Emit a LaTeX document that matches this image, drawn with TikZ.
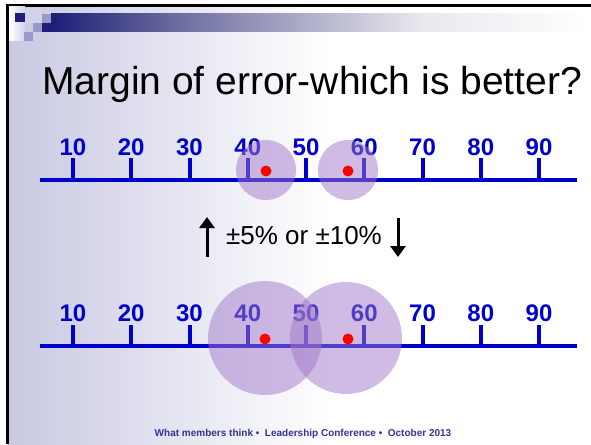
\documentclass[tikz,border=0pt]{standalone}
\usepackage{fontspec}
\setmainfont{Liberation Sans}
\usepackage{xcolor}
\usetikzlibrary{positioning, arrows.meta}

\definecolor{slideblue}{RGB}{0,0,204}
\definecolor{footblue}{RGB}{51,51,153}
\definecolor{lavender}{RGB}{200,200,226}
\definecolor{barnavy}{RGB}{30,30,120}
\definecolor{bargray}{RGB}{110,110,160}
\definecolor{barpale}{RGB}{232,232,238}
\definecolor{sqlight}{RGB}{210,210,234}
\definecolor{sqmid}{RGB}{153,153,204}
\definecolor{haze}{RGB}{160,120,200}

\begin{document}
\begin{tikzpicture}[
    x=1pt, y=-1pt,
    axis/.style={line width=4.5pt, slideblue},
    tick/.style={line width=4pt, slideblue},
    num/.style={font=\fontsize{24}{24}\selectfont\bfseries, text=slideblue, inner sep=0pt, anchor=base},
    spread/.style={circle, fill=haze, fill opacity=0.5, inner sep=0pt, minimum size=#1},
    spread/.default=60pt,
    dot/.style={circle, fill=red, inner sep=0pt, minimum size=11pt},
    updown/.style={-{Triangle[length=11pt, width=15pt]}, line width=3pt, black},
]
\useasboundingbox (0,0) rectangle (591,444);

% Slide background and frame
\fill[white] (0,0) rectangle (591,444);
\fill[left color=lavender, right color=white] (7,5) rectangle (330,444);
\draw[line width=2.5pt] (7.5,444) -- (7.5,5.5) -- (591,5.5);

% Title bar with squares
\fill[left color=barnavy, right color=bargray] (51,14) rectangle (180,32);
\fill[left color=bargray, right color=barpale] (180,14) rectangle (420,32);
\fill[left color=barpale, right color=white] (420,14) rectangle (591,32);
\fill[barnavy] (42,23) rectangle (51,32);
\fill[left color=white, right color=sqlight] (9,7) rectangle (25,41);
\fill[sqlight] (25,8) rectangle (42,23);
\fill[barnavy] (15,13) rectangle (25,22);
\fill[sqmid] (42,14) rectangle (51,23);
\fill[sqmid] (33,23) rectangle (42,32);
\fill[sqmid] (24,32) rectangle (33,41);

% Title
\node[font=\fontsize{39}{39}\selectfont, anchor=west, inner sep=0pt] (title) at (42,84) {Margin of error-which is better?};

% Upper number line
\coordinate (upperL) at (40,180);
\coordinate (upperR) at (577,180);
\draw[axis] (upperL) -- (upperR);
\foreach \v [count=\i from 0] in {10,20,...,90} {
    \coordinate (ub\v) at ({73+58.25*\i},180);
    \coordinate (ut\v) at ({73+58.25*\i},158);
    \draw[tick] (ub\v) -- (ut\v);
    \node[num] (un\v) at ({73+58.25*\i},155) {\v};
}

% Upper margins
\node[spread] (zoneA) at (266,170) {};
\node[spread] (zoneB) at (348,170) {};
\node[dot] (estA) at (266,171) {};
\node[dot] (estB) at (348,171) {};

% Middle label
\coordinate (upFrom) at (207,257);
\coordinate (upTo) at (207,217);
\coordinate (downFrom) at (398,218);
\coordinate (downTo) at (398,257);
\draw[updown] (upFrom) -- (upTo);
\draw[updown] (downFrom) -- (downTo);
\node[font=\fontsize{26}{26}\selectfont, inner sep=0pt] (margin) at (304,236) {±5\% or ±10\%};

% Lower number line
\coordinate (lowerL) at (40,346);
\coordinate (lowerR) at (577,346);
\draw[axis] (lowerL) -- (lowerR);
\foreach \v [count=\i from 0] in {10,20,...,90} {
    \coordinate (lb\v) at ({73+58.25*\i},346);
    \coordinate (lt\v) at ({73+58.25*\i},325);
    \draw[tick] (lb\v) -- (lt\v);
    \node[num] (ln\v) at ({73+58.25*\i},321) {\v};
}

% Lower margins
\node[spread=114pt] (zoneC) at (265,338) {};
\node[spread=112pt] (zoneD) at (346,338) {};
\node[dot] (estC) at (265,339) {};
\node[dot] (estD) at (348,339) {};

% Footer
\node[font=\fontsize{10}{10}\selectfont\bfseries, text=footblue, inner sep=0pt] (footer) at (303,434)
    {What members think •\ \ Leadership Conference •\ \ October 2013};

\end{tikzpicture}
\end{document}
